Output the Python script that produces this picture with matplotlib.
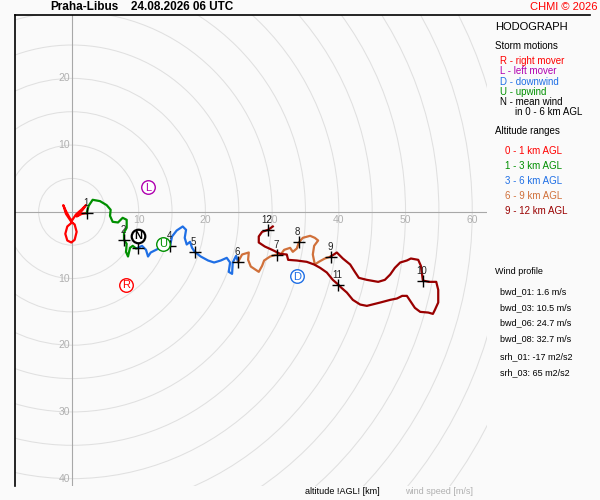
import matplotlib
matplotlib.use("Agg")
import matplotlib.pyplot as plt
import numpy as np
from matplotlib.patches import Circle

# hodograph trace (u, v in m/s), one list per altitude layer
layer_0_1 = [(0.0, -1.6), (-0.7, -2.2), (-1.0, -3.3), (-0.7, -4.3), (-0.1, -4.6),
             (0.4, -4.2), (0.7, -3.0), (0.4, -1.9), (-0.1, -1.5), (-0.9, -0.3),
             (-1.3, 1.0), (-0.9, 0.1), (-0.3, -1.0), (0.0, -1.3), (0.6, -0.4),
             (1.5, 0.4), (2.1, 1.0), (1.6, 0.3), (0.7, -0.7), (1.5, -0.3), (2.2, -0.2)]
layer_1_3 = [(2.2, -0.2), (2.5, 0.9), (3.1, 1.8), (4.2, 1.6), (5.2, 1.0), (5.8, 0.3),
             (5.7, -0.6), (6.1, -1.5), (6.9, -1.6), (7.6, -0.9), (8.2, -1.2),
             (8.2, -2.4), (7.8, -3.1), (7.8, -4.2), (8.2, -4.8), (8.1, -6.0),
             (8.4, -6.7), (8.7, -5.4), (9.1, -5.1), (9.6, -5.5), (9.9, -5.4)]
layer_3_6 = [(9.9, -5.4), (10.5, -5.1), (11.1, -5.7), (11.4, -6.7), (11.8, -6.1),
             (12.4, -5.8), (13.2, -5.4), (13.9, -5.1), (14.7, -5.1), (15.0, -3.7),
             (15.7, -2.8), (16.6, -2.2), (17.1, -2.7), (16.9, -3.9), (17.2, -4.9),
             (17.7, -4.5), (18.0, -5.4), (18.4, -6.0), (19.3, -6.7), (20.4, -7.3),
             (21.3, -7.6), (22.3, -7.3), (23.2, -6.9), (23.7, -7.6), (23.5, -9.0),
             (24.0, -9.3), (24.1, -7.6), (24.6, -6.6), (24.9, -7.5)]
layer_6_9 = [(24.9, -7.5), (25.5, -6.4), (26.5, -6.1), (26.4, -7.2), (26.8, -8.2),
             (28.0, -9.0), (28.5, -8.1), (28.8, -7.3), (29.7, -6.7), (30.7, -6.4),
             (31.3, -6.4), (31.8, -5.7), (32.7, -5.4), (33.1, -6.0), (33.7, -5.5),
             (34.0, -4.6), (34.6, -3.9), (35.7, -3.6), (36.4, -3.9), (36.9, -4.3),
             (36.3, -5.1), (36.1, -6.4), (36.4, -7.9), (37.0, -7.5), (37.9, -7.0),
             (38.8, -6.7)]
layer_9_12 = [(38.8, -6.7), (39.7, -6.1), (40.6, -7.0), (41.7, -7.9), (42.4, -9.0),
              (43.0, -9.9), (44.2, -10.2), (45.9, -10.5), (46.9, -10.2), (47.7, -9.4),
              (48.4, -8.4), (49.2, -7.6), (50.2, -7.3), (50.8, -7.0), (51.9, -7.2),
              (52.3, -8.1), (52.6, -10.3), (53.5, -10.5), (54.6, -10.5), (54.9, -11.7),
              (54.9, -13.6), (54.4, -14.7), (54.1, -15.3), (53.4, -15.1), (52.2, -15.0),
              (51.4, -14.4), (50.8, -13.5), (50.2, -12.6), (49.5, -12.6), (48.7, -13.0),
              (47.7, -13.2), (46.2, -13.6), (44.2, -14.1), (43.2, -13.9), (42.1, -13.2),
              (41.2, -12.1), (40.4, -11.4), (39.9, -10.9), (39.1, -10.2), (38.2, -9.1),
              (37.2, -8.4), (36.3, -7.9), (35.2, -7.5), (33.7, -7.3), (32.4, -7.2),
              (32.2, -6.4), (31.2, -6.3), (30.0, -5.7), (28.9, -5.2), (28.0, -4.6),
              (28.0, -3.7), (28.5, -3.0), (29.4, -2.7), (30.1, -2.2)]

layer_names = ["0 - 1 km AGL", "1 - 3 km AGL", "3 - 6 km AGL", "6 - 9 km AGL", "9 - 12 km AGL"]
layer_colors = ["#ff0000", "#008f00", "#1f6fe5", "#d0703a", "#990000"]

# km markers (label of 3 km sits under the N marker, not visible)
km_labels = ["1", "2", "", "4", "5", "6", "7", "8", "9", "10", "11", "12"]
km_u = [2.2, 7.8, 9.9, 14.7, 18.4, 24.9, 30.7, 34.0, 38.8, 52.6, 39.9, 29.4]
km_v = [-0.2, -4.2, -5.4, -5.1, -6.0, -7.5, -6.4, -4.6, -6.7, -10.3, -10.9, -2.7]

# storm motions
storm_letters = ["R", "L", "D", "U", "N"]
storm_u = [8.1, 11.4, 33.7, 13.6, 9.9]
storm_v = [-10.9, 3.7, -9.6, -4.8, -3.6]
storm_colors = ["#ff0000", "#b000b0", "#1f6fe5", "#009000", "#000000"]
storm_texts = ["R - right mover", "L - left mover", "D - downwind", "U - upwind", "N - mean wind"]

wind_profile = ["bwd_01: 1.6 m/s", "bwd_03: 10.5 m/s", "bwd_06: 24.7 m/s", "bwd_08: 32.7 m/s"]
helicity = ["srh_01: -17 m2/s2", "srh_03: 65 m2/s2"]

ring_radii = np.arange(5, 75, 5)
x_ring_labels = [10, 20, 30, 40, 50, 60]
y_ring_labels = [20, 10, -10, -20, -30, -40]


def px(x, y):
    """figure fraction from pixel position (origin top-left)"""
    return x / 600, 1 - y / 500


def main():
    plt.rcParams["font.family"] = ["Liberation Sans", "DejaVu Sans"]
    fig = plt.figure(figsize=(6, 5), dpi=100, facecolor="#fafafa")
    ax = fig.add_axes([0.025, 0.028, 0.787, 0.942])
    ax.set_facecolor("#fafafa")
    ax.set_xlim(-8.5, 62.2)
    ax.set_ylim(-41.1, 29.5)
    ax.set_aspect("equal")
    ax.set_xticks([])
    ax.set_yticks([])
    for side in ("right", "bottom", "top"):
        ax.spines[side].set_visible(False)
    ax.spines["left"].set_linewidth(1.2)
    fig.add_artist(plt.Line2D([15 / 600, 590 / 600], [1 - 15 / 500] * 2,
                              color="black", lw=1.2))

    for r in ring_radii:
        ax.add_patch(Circle((0, 0), r, fill=False, ec="#e0e0e0", lw=0.75))
    ax.axhline(0, color="#a8a8a8", lw=0.8)
    ax.axvline(0, color="#a8a8a8", lw=0.8)
    for r in x_ring_labels:
        ax.text(r, -1.2, str(r), ha="center", va="center", color="#b0b0b0", fontsize=7.5)
    for r in y_ring_labels:
        ax.text(-0.3, r, str(abs(r)), ha="right", va="center", color="#b0b0b0", fontsize=7.5)

    layers = [layer_0_1, layer_1_3, layer_3_6, layer_6_9, layer_9_12]
    for pts, col in zip(layers, layer_colors):
        arr = np.array(pts)
        ax.plot(arr[:, 0], arr[:, 1], color=col, lw=1.6, solid_joinstyle="round", zorder=3)

    ax.plot(km_u, km_v, "+", color="black", ms=9, mew=1, zorder=4)
    for lab, u, v in zip(km_labels, km_u, km_v):
        if lab:
            ax.annotate(lab, (u, v), xytext=(-1, 10), textcoords="offset pixels",
                        ha="center", va="center", fontsize=7, color="#222222", zorder=4)

    for let, u, v, col in zip(storm_letters, storm_u, storm_v, storm_colors):
        lw = 1.6 if let == "N" else 1.0
        ax.scatter([u], [v], s=95, facecolor="white", edgecolor=col, lw=lw, zorder=5)
        ax.text(u, v - 0.1, let, ha="center", va="center", color=col, fontsize=8,
                fontweight="bold" if let == "N" else "normal", zorder=6)

    # titles
    fig.text(*px(50, 7), "Praha-Libus", fontsize=8.5, fontweight="bold", va="center")
    fig.text(*px(131, 7), "24.08.2026 06 UTC", fontsize=8.5, fontweight="bold", va="center")
    fig.text(*px(597, 7), "CHMI \u00a9 2026", fontsize=8, color="#ff0000", ha="right", va="center")

    # side panel
    fig.text(*px(495, 27), "HODOGRAPH", fontsize=8, va="center")
    fig.text(*px(495, 46), "Storm motions", fontsize=7, va="center")
    for i, (t, col) in enumerate(zip(storm_texts, storm_colors)):
        fig.text(*px(500, 61 + 10.3 * i), t, fontsize=7, color=col, va="center")
    fig.text(*px(515, 112), "in 0 - 6 km AGL", fontsize=7, va="center")
    fig.text(*px(495, 131), "Altitude ranges", fontsize=7, va="center")
    for i, (t, col) in enumerate(zip(layer_names, layer_colors)):
        fig.text(*px(505, 151 + 15 * i), t, fontsize=7, color=col, va="center")

    fig.text(*px(495, 271), "Wind profile", fontsize=6.5, va="center")
    for i, t in enumerate(wind_profile):
        fig.text(*px(500, 292 + 15.6 * i), t, fontsize=6.5, va="center")
    for i, t in enumerate(helicity):
        fig.text(*px(500, 357 + 15.5 * i), t, fontsize=6.5, va="center")

    fig.text(*px(342, 492), "altitude !AGL! [km]", fontsize=6.5, ha="center", va="center")
    fig.text(*px(439, 492), "wind speed [m/s]", fontsize=6.5, color="#b0b0b0", ha="center", va="center")

    fig.savefig("out.png", dpi=100, facecolor=fig.get_facecolor())
    plt.close(fig)


if __name__ == "__main__":
    main()
